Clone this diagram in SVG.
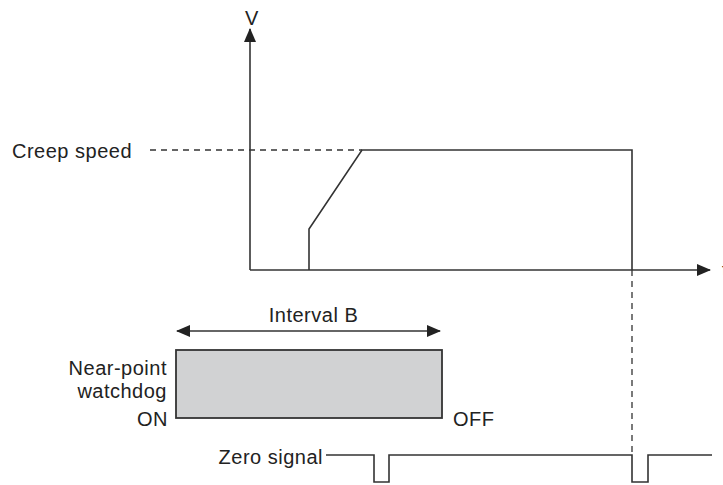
<svg xmlns="http://www.w3.org/2000/svg" width="723" height="485" viewBox="0 0 723 485">
<style>
text{font-family:"Liberation Sans",Arial,sans-serif;font-size:20px;letter-spacing:0.5px;fill:#222}
.ln{stroke:#333;stroke-width:1.6;fill:none}
.dash{stroke:#333;stroke-width:1.3;fill:none;stroke-dasharray:6,5}
</style>
<defs>
<marker id="ah" markerWidth="14" markerHeight="12" refX="13" refY="6" orient="auto-start-reverse" markerUnits="userSpaceOnUse">
<path d="M0,0 L14,6 L0,12 Z" fill="#222"/>
</marker>
</defs>
<rect width="723" height="485" fill="#fff"/>
<g id="connectors">
<line class="ln" x1="250" y1="270" x2="250" y2="29" marker-end="url(#ah)"/>
<line class="ln" x1="250" y1="270" x2="710" y2="270" marker-end="url(#ah)"/>
<polyline class="ln" points="309,270 309,229 362,150 632,150 632,270"/>
<line class="dash" x1="150" y1="150" x2="362" y2="150"/>
<line class="dash" x1="632" y1="270" x2="632" y2="455"/>
<line class="ln" x1="177" y1="331" x2="440" y2="331" marker-start="url(#ah)" marker-end="url(#ah)"/>
<polyline class="ln" points="326,455 374,455 374,482 389,482 389,455 632,455 632,482 648,482 648,455 712,455"/>
</g>
<g id="axis-labels">
<text x="245" y="25">V</text>
<text x="722" y="277">t</text>
</g>
<g id="creep-speed"><text x="12" y="158">Creep speed</text></g>
<g id="interval-b"><text x="313.5" y="322" text-anchor="middle">Interval B</text></g>
<g id="near-point-watchdog">
<rect x="176" y="350" width="266" height="68" fill="#d1d2d3" stroke="#333" stroke-width="1.8"/>
<text x="167" y="375" text-anchor="end">Near-point</text>
<text x="167" y="398" text-anchor="end">watchdog</text>
<text x="168" y="426" text-anchor="end">ON</text>
<text x="453" y="426">OFF</text>
</g>
<g id="zero-signal"><text x="323" y="464" text-anchor="end">Zero signal</text></g>
</svg>
